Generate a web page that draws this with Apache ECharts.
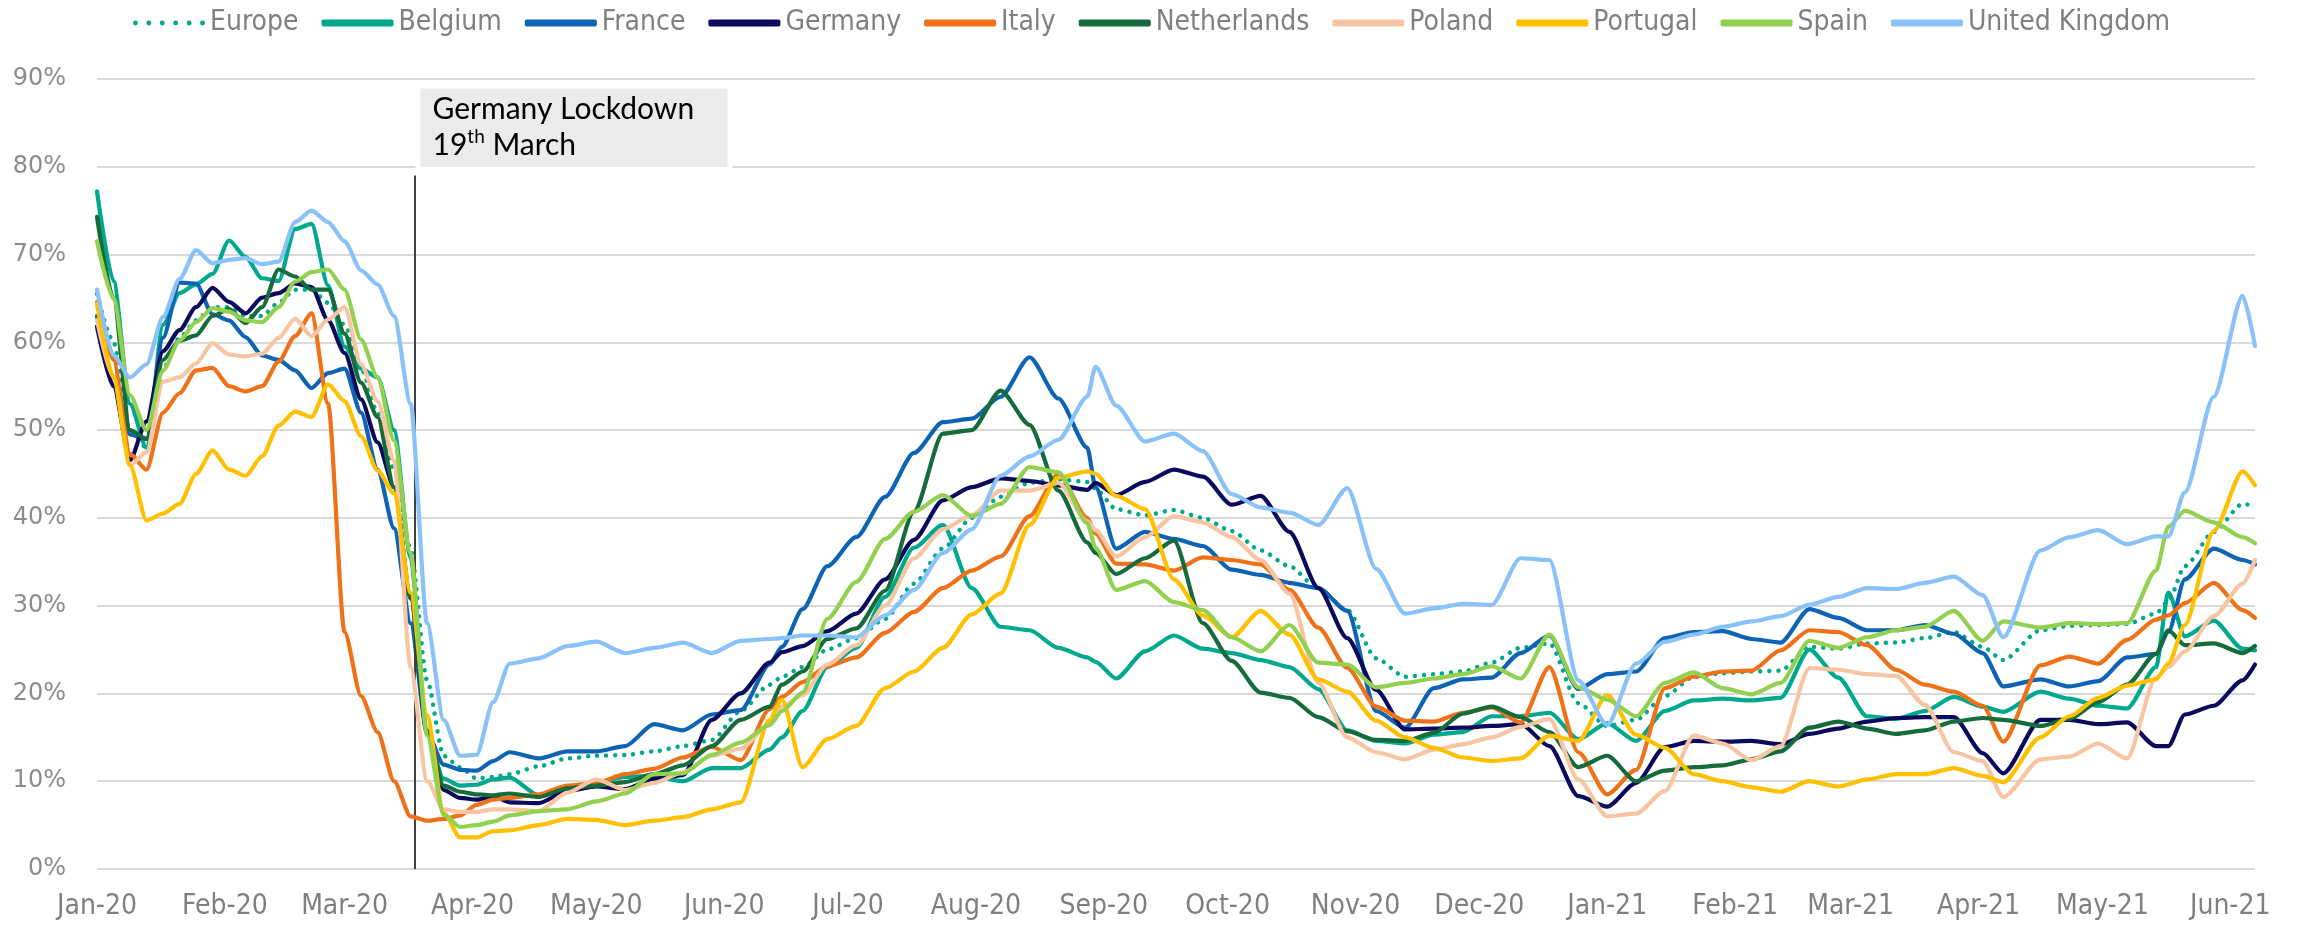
<!DOCTYPE html>
<html>
<head>
<meta charset="utf-8">
<script src="https://cdn.jsdelivr.net/npm/echarts@6/dist/echarts.min.js"></script>
<style>
html,body{margin:0;padding:0;background:#ffffff;}
#chart{width:2305px;height:929px;}
</style>
</head>
<body>
<div id="chart"></div>
<script>
// Day index (0 = 1 Jan 2020)
const days = [0,4,8,12,16,20,24,28,32,36,40,44,48,52,56,60,64,68,72,76,80,84,88,92,96,
100,107,114,121,128,135,142,149,156,163,166,171,177,184,191,198,205,212,219,226,233,240,242,
247,254,261,268,275,282,289,296,303,310,317,324,331,338,345,352,359,366,373,380,387,394,401,408,415,422,429,436,443,450,457,462,471,478,485,492,499,
502,506,513,520,523];

const europe = [65.5,60,50,48,57,60.5,62.5,64,64,63,63,64.5,66,66,64.5,62,57,52,45.5,36.5,21.5,12.9,11.6,10.3,10.5,
10.8,11.7,12.6,12.9,13,13.4,14,14.7,18,21,21.9,23,25,26.3,28.5,32.5,36.5,40,42.4,44,44.4,44.1,43.3,
41,40.3,40.9,40,38.5,36.3,34.5,31.9,29.5,24,21.9,22.2,22.5,23.5,25.2,25.7,18.9,16.3,17,19.7,21.9,22.3,22.5,22.6,25.3,25.1,25.7,25.8,26.3,27,25.3,23.8,27.2,27.7,27.8,27.9,29.1,
30.5,34.5,38.4,41.6,41.3];

const belgium = [77.2,67,53,48,62,65.6,66.6,67.8,71.6,69.7,67.3,67,72.9,73.5,66.5,59.5,57,56,50,35.5,15.3,10.3,9.5,9.6,10.2,
10.4,8.4,8.9,9.9,10.5,10.6,10,11.5,11.5,13.6,15,18,23,25.2,31,36.6,39.2,32,27.6,27.2,25.2,24.1,23.6,
21.7,24.8,26.6,25.1,24.6,23.8,23,20.5,15.8,14.6,14.3,15.3,15.6,17.4,17.4,17.8,14.8,16.6,14.6,18,19.2,19.4,19.2,19.5,25,21.8,17.4,17.1,18,19.6,18.5,17.9,20.2,19.4,18.6,18.3,23,
31.5,26.5,28.3,25.1,24.9];

const france = [63,56,49.5,49,60.5,66.8,66.7,63.2,62.5,60.6,58.5,58,56.8,54.8,56.5,57,52,45.5,38.8,28,15.5,11.9,11.3,11.2,12.3,
13.3,12.6,13.4,13.4,14,16.5,15.8,17.6,18.1,23.3,25.3,29.6,34.5,37.8,42.4,47.4,50.9,51.3,53.8,58.3,53.6,48,43.5,
36.5,38.4,37.6,36.8,34.1,33.5,32.6,32,29.4,18,16.1,20.6,21.6,21.8,24.6,26.6,20.5,22.2,22.5,26.3,27,27.1,26.2,25.8,29.6,28.6,27.2,27.2,27.8,26.8,24.6,20.8,21.6,20.8,21.4,24.1,24.5,
27,33,36.5,35.2,34.7];

const germany = [61.8,55,46.6,51,59,61.4,64,66.2,64.6,63.3,65.1,65.6,66.7,66.3,62.5,58.8,53.5,48.6,43.5,31,15.5,9,8.1,7.9,8.3,
7.6,7.5,8.9,9.4,9.1,10.3,10.7,17,20,23.5,24.7,25.4,27.1,29.1,33,37.5,42,43.5,44.5,44.2,43.7,43.2,44,
42.6,44.1,45.5,44.7,41.5,42.5,38.4,32,26.3,20.4,15.9,16,16.1,16.3,16.5,14,8.3,7.1,9.8,13.9,14.6,14.5,14.6,14.2,15.4,16,16.8,17.2,17.3,17.3,13.2,10.9,17,17,16.5,16.7,14,
14,17.6,18.6,21.5,23.3];

const italy = [64.6,58,47.3,45.5,52,54.2,56.8,57.1,55,54.4,55,57.8,60.7,63.3,53,27,19.7,15.6,10,6,5.5,5.7,6.1,7.3,7.9,
8.1,8.5,9.5,9.8,10.8,11.4,12.7,13.9,12.4,18.2,19.6,21.3,23.1,24.1,26.9,29.3,32,34,35.6,40.2,45,40,38.2,
34.8,34.7,34,35.5,35.2,34.7,31.8,27.5,22.9,18.5,16.9,16.8,17.8,18.4,16.7,23,13.3,8.5,11.3,20.6,21.9,22.5,22.6,24.9,27.2,27,25.5,22.7,21,20.2,18.6,14.5,23.2,24.2,23.4,26.1,28.4,
28.9,30.3,32.6,29.5,28.6];

const netherlands = [74.3,65,50,49,58,60.2,60.8,63,63.8,62.2,64,68.3,67.5,66,66,61,55.4,51.5,43.5,30.8,15.8,9.5,8.8,8.5,8.4,
8.6,8.2,9.2,9.5,9.9,10.8,11.8,14,17,18.5,21,22.5,26.2,27.4,31.7,40.7,49.6,50,54.5,50.6,43.1,37.2,36,
33.6,35.4,37.4,28,23.7,20.1,19.5,17.3,15.7,14.7,14.6,15.5,17.7,18.5,17.3,15.6,11.6,12.9,10,11.2,11.6,11.8,12.5,13.4,16.1,16.8,16,15.4,15.8,16.8,17.2,17,16.3,17.1,19,21,24.5,
27.2,25.5,25.7,24.6,25.4];

const poland = [62.5,56,46,47.5,55.5,56,57.6,59.9,58.6,58.4,58.7,60.5,62.7,60.7,62.6,64,57.5,53.3,46.5,23,10,6.8,6.5,6.5,6.8,
6.8,6.6,8.7,10.2,9,9.8,11,12.9,13.7,16.5,18.5,19.8,23.3,25.5,30,35.4,38.7,40.3,43.1,43.1,44,39.6,38.6,
35.6,37.8,40.2,39.5,37.8,35.2,31.4,21.2,15,13.3,12.5,13.6,14.2,15,16.2,17.1,10.2,6,6.3,8.9,15.2,14.3,12.4,14,22.9,22.7,22.2,22,18.7,13.3,12.3,8.2,12.5,12.8,14.3,12.6,21.8,
23,24.8,28.8,32.5,35.2];

const portugal = [64.4,56,46,39.7,40.5,41.6,45,47.7,45.5,44.8,47,50.5,52.1,51.5,55.2,53.3,49.3,45.4,42.8,31.5,17.5,6.4,3.6,3.6,4.3,
4.4,5,5.7,5.6,5,5.5,5.9,6.8,7.6,17,19.3,11.6,14.8,16.3,20.6,22.5,25.2,29,31.4,39.2,44.6,45.3,45,
42.5,41,33,28.9,26.4,29.4,26.7,21.6,20.2,16.9,15,13.8,12.7,12.3,12.6,15.2,14.6,19.8,15.3,13.8,10.8,10,9.3,8.8,10,9.4,10.2,10.8,10.8,11.5,10.6,9.9,15,17.4,19.5,20.9,21.6,
23.4,27.8,38.5,45.3,43.7];

const spain = [71.5,65,54,50,56.8,60.2,62.3,63.9,63.5,62.5,62.3,64,66.9,68,68.3,66,60.3,56,48.8,36,15.2,6.2,4.8,5,5.4,
6.1,6.6,6.8,7.7,8.6,10.8,10.9,13,14.4,16.4,18,20.1,28.5,32.7,37.6,40.7,42.6,40.2,41.6,45.8,45.2,39.4,36.6,
31.8,32.8,30.4,29.5,26.4,24.8,27.8,23.5,23.3,20.7,21.2,21.7,22.2,23.1,21.7,26.7,20.7,19.3,17.4,21.2,22.4,20.6,19.9,21.2,26,25.2,26.4,27.2,27.6,29.4,26,28.2,27.5,28,27.9,28,34,
39,40.8,39.5,37.8,37.1];

const unitedKingdom = [66,58.5,56,57.5,62.9,67.2,70.5,69,69.4,69.6,68.9,69.2,73.7,75,73.7,71.5,68.2,66.6,63,53,28,17,12.9,13,19,
23.4,24,25.4,25.9,24.6,25.2,25.8,24.6,26,26.2,26.3,26.6,26.6,26.4,28.9,31.8,36,38.7,44.8,47,48.9,53.8,57.2,
52.8,48.7,49.6,47.6,42.7,41.2,40.6,39.2,43.4,34.2,29.1,29.7,30.2,30.1,35.4,35.2,21.5,16.4,23.4,25.9,26.7,27.6,28.2,28.8,30.1,31,32,31.9,32.6,33.3,31.2,26.4,36.3,37.8,38.6,37,37.9,
37.9,42.9,53.8,65.3,59.6];

// Axis ticks: first day of each month, and their labels
const monthDays = [0,31,60,91,121,152,182,213,244,274,305,335,366,397,425,456,486,517];
const monthLabels = ['Jan-20','Feb-20','Mar-20','Apr-20','May-20','Jun-20','Jul-20','Aug-20','Sep-20',
'Oct-20','Nov-20','Dec-20','Jan-21','Feb-21','Mar-21','Apr-21','May-21','Jun-21'];

// Annotation: Germany lockdown (19 March 2020)
const lockdownDay = 77;

const seriesDefs = [
  ['Europe', europe, '#00A88E'],
  ['Belgium', belgium, '#00A88E'],
  ['France', france, '#0E64B4'],
  ['Germany', germany, '#0B0B5E'],
  ['Italy', italy, '#EF7218'],
  ['Netherlands', netherlands, '#156B3A'],
  ['Poland', poland, '#F8C5A2'],
  ['Portugal', portugal, '#FFC000'],
  ['Spain', spain, '#92D050'],
  ['United Kingdom', unitedKingdom, '#88C2F8']
];

const series = seriesDefs.map(([name, vals, color], idx) => {
  const s = {
    name: name,
    type: 'line',
    data: days.map((d, i) => [d, vals[i]]),
    symbol: 'none',
    smooth: 0.25,
    smoothMonotone: 'x',
    color: color,
    lineStyle: idx === 0
      ? { color: color, width: 4.5, type: [0.01, 9], cap: 'round' }
      : { color: color, width: 4.2, cap: 'round', join: 'round' },
    emphasis: { disabled: true },
    z: 2 + idx
  };
  if (idx === 0) {
    s.markLine = {
      silent: true,
      symbol: ['none', 'none'],
      label: { show: false },
      lineStyle: { color: '#404040', width: 2, type: 'solid' },
      data: [[{ coord: [lockdownDay, 0] }, { coord: [lockdownDay, 79] }]]
    };
    s.markArea = {
      silent: true,
      itemStyle: { color: '#EBEBEB', borderColor: '#ffffff', borderWidth: 5 },
      label: {
        show: true,
        position: 'insideLeft',
        distance: 17,
        formatter: '{a|Germany Lockdown}\n{a|19}{s|th}{a| March}',
        rich: {
          a: { fontFamily: 'Lato', fontSize: 30, color: '#000000', lineHeight: 36 },
          s: { fontFamily: 'Lato', fontSize: 19, color: '#000000', lineHeight: 22, verticalAlign: 'top' }
        }
      },
      data: [[{ coord: [77.8, 79.7] }, { coord: [153.4, 89.2] }]]
    };
  }
  return s;
});

// legend symbol for the dotted "Europe" line: a row of small dots
const dotIcon = 'path://' + [4, 16, 28, 40, 52, 64].map(
  x => 'M' + (x - 2.2) + ' 3.5a2.2 2.2 0 1 0 4.4 0a2.2 2.2 0 1 0 -4.4 0Z').join('');

const legendData = seriesDefs.map(([name, , color], idx) => ({
  name: name,
  icon: idx === 0 ? dotIcon : 'roundRect',
  itemStyle: { color: color, opacity: 1, borderWidth: 0 }
}));

const chart = echarts.init(document.getElementById('chart'), null, { renderer: 'canvas' });
chart.setOption({
  animation: false,
  backgroundColor: '#ffffff',
  legend: {
    data: legendData,
    left: 128,
    top: 4,
    itemWidth: 72,
    itemHeight: 7,
    itemGap: 23,
    textStyle: { fontFamily: 'DejaVu Sans Condensed', fontSize: 28, color: '#808080' }
  },
  grid: { left: 97, right: 50, top: 79, bottom: 60, containLabel: false },
  xAxis: {
    type: 'value',
    min: 0,
    max: 523,
    axisLine: { show: false },
    axisTick: { show: false },
    splitLine: { show: false },
    axisLabel: {
      customValues: monthDays,
      formatter: function (v) {
        const k = monthDays.indexOf(Math.round(v));
        return k >= 0 ? monthLabels[k] : '';
      },
      fontFamily: 'DejaVu Sans Condensed',
      fontSize: 28,
      color: '#7F7F7F',
      margin: 24
    }
  },
  yAxis: {
    type: 'value',
    min: 0,
    max: 90,
    interval: 10,
    axisLine: { show: false },
    axisTick: { show: false },
    splitLine: { lineStyle: { color: '#D9D9D9', width: 2 } },
    axisLabel: {
      formatter: '{value}%',
      fontFamily: 'DejaVu Sans',
      fontSize: 24,
      color: '#8C8C8C',
      margin: 31
    }
  },
  series: series
});
</script>
</body>
</html>
